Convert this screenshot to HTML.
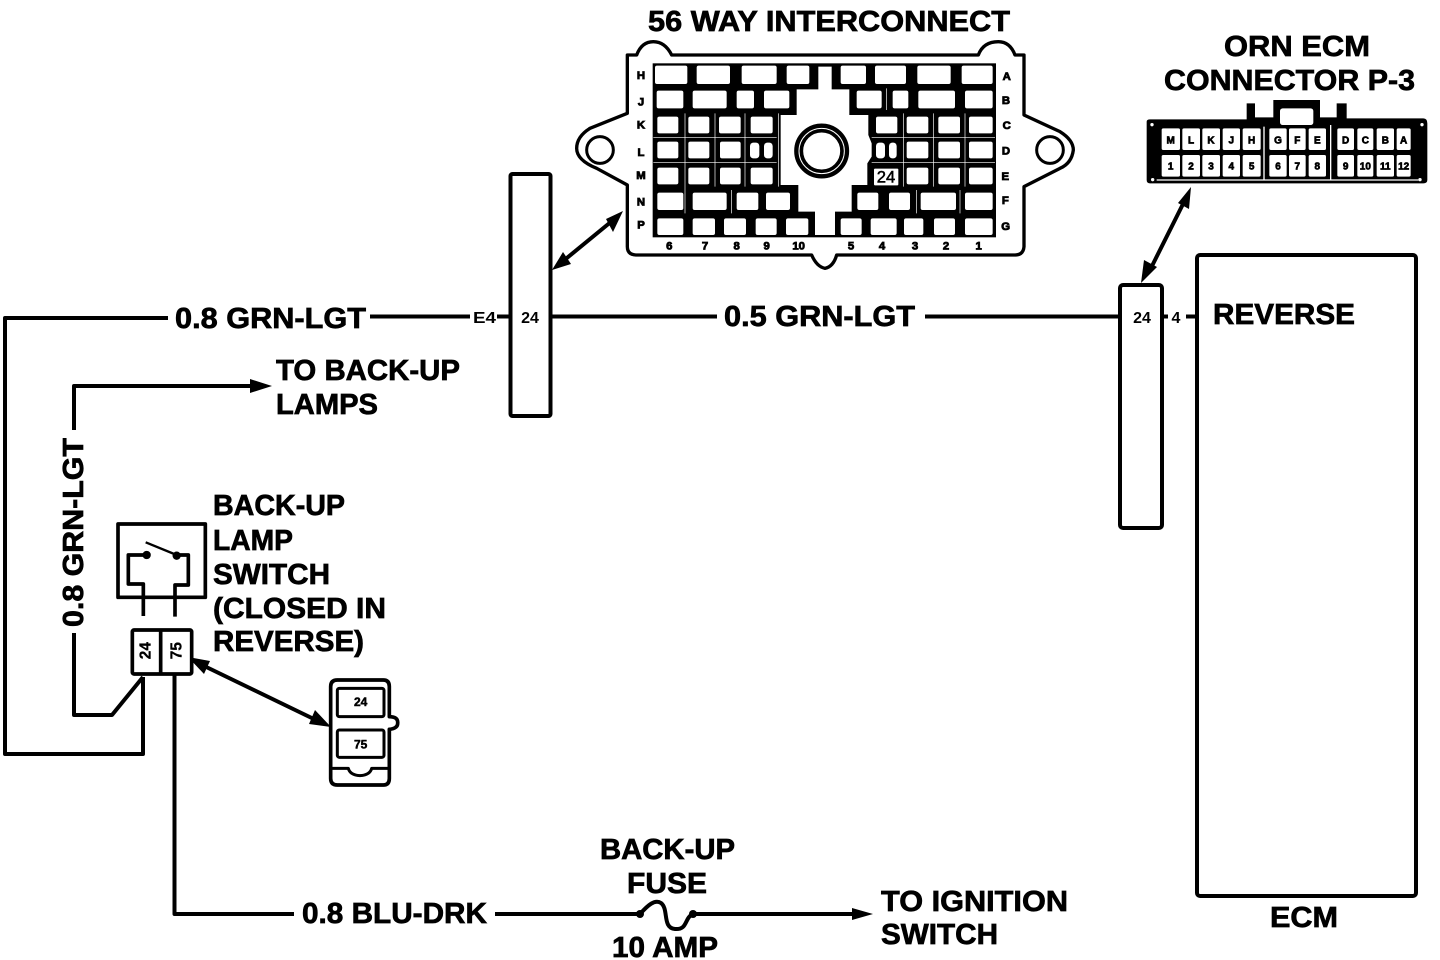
<!DOCTYPE html>
<html>
<head>
<meta charset="utf-8">
<style>
html,body{margin:0;padding:0;background:#fff;width:1440px;height:960px;overflow:hidden}
svg{display:block}
text{font-family:"Liberation Sans",sans-serif;font-weight:700;fill:#000}
.t{font-size:29px;stroke:#000;stroke-width:.7}
.w{fill:none;stroke:#000;stroke-width:4;stroke-linejoin:round}
.c{fill:#fff}
.s{font-size:34px;text-anchor:middle;stroke:#000;stroke-width:2.5}
.e{font-size:30px;text-anchor:middle;stroke:#000;stroke-width:2}
</style>
</head>
<body>
<svg width="1440" height="960" viewBox="0 0 1440 960" xmlns="http://www.w3.org/2000/svg">
<rect width="1440" height="960" fill="#fff"/>

<!-- labels -->
<text class="t" x="648" y="31" textLength="362" lengthAdjust="spacingAndGlyphs">56 WAY INTERCONNECT</text>
<text class="t" x="1224" y="56" textLength="146" lengthAdjust="spacingAndGlyphs">ORN ECM</text>
<text class="t" x="1164" y="90" textLength="251" lengthAdjust="spacingAndGlyphs">CONNECTOR P-3</text>
<text class="t" x="175" y="328" textLength="191" lengthAdjust="spacingAndGlyphs">0.8 GRN-LGT</text>
<text class="t" x="724" y="326" textLength="191" lengthAdjust="spacingAndGlyphs">0.5 GRN-LGT</text>
<text class="t" x="276" y="380" textLength="184" lengthAdjust="spacingAndGlyphs">TO BACK-UP</text>
<text class="t" x="276" y="414" textLength="102" lengthAdjust="spacingAndGlyphs">LAMPS</text>
<text class="t" x="1213" y="324" textLength="142" lengthAdjust="spacingAndGlyphs">REVERSE</text>
<text class="t" x="1270" y="927" textLength="68" lengthAdjust="spacingAndGlyphs">ECM</text>
<text class="t" x="213" y="515" textLength="132" lengthAdjust="spacingAndGlyphs">BACK-UP</text>
<text class="t" x="213" y="550" textLength="80" lengthAdjust="spacingAndGlyphs">LAMP</text>
<text class="t" x="213" y="584" textLength="117" lengthAdjust="spacingAndGlyphs">SWITCH</text>
<text class="t" x="213" y="618" textLength="173" lengthAdjust="spacingAndGlyphs">(CLOSED IN</text>
<text class="t" x="213" y="651" textLength="151" lengthAdjust="spacingAndGlyphs">REVERSE)</text>
<text class="t" x="302" y="923" textLength="185" lengthAdjust="spacingAndGlyphs">0.8 BLU-DRK</text>
<text class="t" x="600" y="859" textLength="135" lengthAdjust="spacingAndGlyphs">BACK-UP</text>
<text class="t" x="627" y="893" textLength="80" lengthAdjust="spacingAndGlyphs">FUSE</text>
<text class="t" x="612" y="957" textLength="106" lengthAdjust="spacingAndGlyphs">10 AMP</text>
<text class="t" x="881" y="911" textLength="187" lengthAdjust="spacingAndGlyphs">TO IGNITION</text>
<text class="t" x="881" y="944" textLength="117" lengthAdjust="spacingAndGlyphs">SWITCH</text>
<text class="t" transform="translate(83,627) rotate(-90)" x="0" y="0" textLength="189" lengthAdjust="spacingAndGlyphs">0.8 GRN-LGT</text>
<text x="473" y="323" font-size="16" textLength="23" lengthAdjust="spacingAndGlyphs">E4</text>
<text x="530" y="323" font-size="16" text-anchor="middle">24</text>
<text x="1142" y="323" font-size="16" text-anchor="middle">24</text>
<text x="1176" y="323" font-size="16" text-anchor="middle">4</text>

<!-- boxes -->
<rect class="w" x="510.5" y="174" width="40" height="242" rx="2" fill="none"/>
<rect class="w" x="1120" y="285" width="42" height="243" rx="3"/>
<rect class="w" x="1197" y="255" width="219" height="641" rx="3"/>

<!-- wires -->
<path class="w" d="M168 318H5V754H143V677"/>
<path class="w" d="M370 316.5H470M497 316.5H510"/>
<path class="w" d="M552 316.5H717M925 316.5H1120"/>
<path class="w" d="M1163 316.5H1168M1186 316.5H1197"/>
<path class="w" d="M74 430V386H252"/>
<path d="M250 379L272 386L250 393Z"/>
<path class="w" d="M74 633V715H112L143 677"/>
<path class="w" d="M174.5 675V914H294M495 914H640"/>
<path class="w" d="M640 914C648 905 655 899 661 903C669 909 662 928 675 929C688 930 684 918 693 914H860"/>
<circle cx="640" cy="914" r="4"/><circle cx="693" cy="914" r="4"/>
<path d="M852 908L873 914L852 920Z"/>

<!-- double arrows -->
<path class="w" d="M562 262L612 221"/>
<path d="M552 270L563 252L571 264Z"/><path d="M623 211L606 219L613 232Z"/>
<path class="w" d="M1184 202L1150 270"/>
<path d="M1191 187L1178 203L1189 209Z"/><path d="M1141 283L1144 260L1157 267Z"/>
<path class="w" d="M198 663L320 722"/>
<path d="M188 657L210 661L204 674Z"/><path d="M331 727L309 724L315 710Z"/>

<!-- 56-way connector -->
<g transform="translate(570,0) scale(.33333)">
<path fill="none" stroke="#000" stroke-width="10" stroke-linejoin="round" d="M172 340V165H200Q215 125 250 125Q285 125 305 165H1225Q1240 125 1285 125Q1320 125 1335 165H1362V345L1470 395Q1510 420 1510 450Q1505 490 1470 505L1362 560V740Q1360 765 1335 765H800Q790 800 765 805Q740 800 725 765H200Q172 765 172 740V555L80 505Q20 480 20 445Q20 410 60 385Z"/>
<circle cx="90" cy="450" r="40" fill="none" stroke="#000" stroke-width="9"/>
<circle cx="1440" cy="450" r="40" fill="none" stroke="#000" stroke-width="9"/>
<rect x="248" y="190" width="1030" height="522" fill="#000"/>
<path class="c" d="M745 200H785V268H838V345H895V405L905 430V470L892 490V555H845V635H795V705H735V635H685V555H632V345H680V268H745Z"/>
<circle cx="755" cy="453" r="76" fill="none" stroke="#000" stroke-width="13"/>
<circle cx="755" cy="453" r="61" fill="none" stroke="#000" stroke-width="11"/>
<g fill="#fff">
<rect x="255" y="197" width="97" height="55" rx="6"/><rect x="380" y="197" width="100" height="55" rx="6"/><rect x="515" y="197" width="105" height="55" rx="6"/><rect x="650" y="197" width="68" height="55" rx="6"/><rect x="812" y="197" width="76" height="55" rx="6"/><rect x="915" y="197" width="93" height="55" rx="6"/><rect x="1042" y="197" width="100" height="55" rx="6"/><rect x="1175" y="197" width="93" height="55" rx="6"/>
<rect x="260" y="272" width="80" height="53" rx="6"/><rect x="368" y="272" width="102" height="53" rx="6"/><rect x="500" y="272" width="52" height="53" rx="6"/><rect x="582" y="272" width="76" height="53" rx="6"/><rect x="860" y="272" width="75" height="53" rx="6"/><rect x="968" y="272" width="47" height="53" rx="6"/><rect x="1045" y="272" width="110" height="53" rx="6"/><rect x="1185" y="272" width="83" height="53" rx="6"/>
<rect x="262" y="350" width="63" height="50" rx="6"/><rect x="355" y="350" width="63" height="50" rx="6"/><rect x="447" y="350" width="65" height="50" rx="6"/><rect x="542" y="350" width="66" height="50" rx="6"/><rect x="918" y="350" width="64" height="50" rx="6"/><rect x="1010" y="350" width="65" height="50" rx="6"/><rect x="1105" y="350" width="65" height="50" rx="6"/><rect x="1197" y="350" width="71" height="50" rx="6"/>
<rect x="262" y="425" width="63" height="50" rx="6"/><rect x="355" y="425" width="63" height="50" rx="6"/><rect x="450" y="425" width="62" height="50" rx="6"/><rect x="540" y="428" width="28" height="47" rx="10"/><rect x="582" y="428" width="26" height="47" rx="10"/><rect x="918" y="428" width="27" height="47" rx="10"/><rect x="957" y="428" width="23" height="47" rx="10"/><rect x="1010" y="425" width="65" height="50" rx="6"/><rect x="1105" y="425" width="65" height="50" rx="6"/><rect x="1197" y="425" width="71" height="50" rx="6"/>
<rect x="262" y="503" width="63" height="50" rx="6"/><rect x="355" y="503" width="63" height="50" rx="6"/><rect x="450" y="503" width="62" height="50" rx="6"/><rect x="542" y="503" width="66" height="50" rx="6"/><rect x="912" y="506" width="73" height="50" rx="3"/><rect x="1010" y="503" width="65" height="50" rx="6"/><rect x="1105" y="503" width="65" height="50" rx="6"/><rect x="1197" y="503" width="71" height="50" rx="6"/>
<rect x="262" y="578" width="78" height="52" rx="6"/><rect x="368" y="578" width="102" height="52" rx="6"/><rect x="500" y="578" width="65" height="52" rx="6"/><rect x="588" y="578" width="72" height="52" rx="6"/><rect x="862" y="578" width="63" height="52" rx="6"/><rect x="957" y="578" width="63" height="52" rx="6"/><rect x="1052" y="578" width="106" height="52" rx="6"/><rect x="1185" y="578" width="83" height="52" rx="6"/>
<rect x="262" y="655" width="78" height="50" rx="6"/><rect x="368" y="655" width="67" height="50" rx="6"/><rect x="462" y="655" width="66" height="50" rx="6"/><rect x="557" y="655" width="63" height="50" rx="6"/><rect x="648" y="655" width="67" height="50" rx="6"/><rect x="812" y="655" width="63" height="50" rx="6"/><rect x="902" y="655" width="78" height="50" rx="6"/><rect x="1002" y="655" width="58" height="50" rx="6"/><rect x="1092" y="655" width="63" height="50" rx="6"/><rect x="1185" y="655" width="83" height="50" rx="6"/>
</g>
<path fill="none" stroke="#fff" stroke-width="2" d="M250 412H620M250 488H620M905 412H1275M905 488H1275M345 340V640M435 340V560M525 340V560M625 340V560M1000 340V560M1090 340V560M1185 340V560M485 570V640M1040 570V640M1170 570V640M950 265V330"/>
<text x="948" y="548" font-size="50" text-anchor="middle" style="font-weight:400;stroke:#000;stroke-width:1.5">24</text>
<text class="s" x="213" y="237">H</text><text class="s" x="213" y="316">J</text><text class="s" x="213" y="386">K</text><text class="s" x="213" y="468">L</text><text class="s" x="213" y="537">M</text><text class="s" x="213" y="616">N</text><text class="s" x="213" y="686">P</text>
<text class="s" x="1310" y="240">A</text><text class="s" x="1308" y="312">B</text><text class="s" x="1310" y="387">C</text><text class="s" x="1308" y="464">D</text><text class="s" x="1306" y="540">E</text><text class="s" x="1306" y="612">F</text><text class="s" x="1307" y="690">G</text>
<text class="s" x="298" y="748">6</text><text class="s" x="405" y="748">7</text><text class="s" x="500" y="748">8</text><text class="s" x="590" y="748">9</text><text class="s" x="686" y="748">10</text><text class="s" x="843" y="748">5</text><text class="s" x="936" y="748">4</text><text class="s" x="1035" y="748">3</text><text class="s" x="1128" y="748">2</text><text class="s" x="1226" y="748">1</text>
</g>

<!-- ECM connector -->
<g transform="translate(1140,20) scale(.33333)">
<path fill="#000" d="M20 305Q20 298 30 298H320V250H345V292H400V240H540V292H590V250H620V295H850Q862 295 862 310V480Q862 490 850 490H30Q20 490 20 480Z"/>
<rect x="420" y="265" width="100" height="50" rx="8" fill="#fff"/>
<path fill="none" stroke="#fff" stroke-width="4" d="M372 320V478M572 315V478M50 480H835"/>
<g fill="#fff">
<circle cx="36" cy="314" r="5"/><circle cx="846" cy="314" r="5"/><circle cx="38" cy="479" r="5"/><circle cx="840" cy="479" r="5"/>
<rect x="65" y="325" width="55" height="65" rx="5"/><rect x="127" y="325" width="53" height="65" rx="5"/><rect x="187" y="325" width="53" height="65" rx="5"/><rect x="248" y="325" width="52" height="65" rx="5"/><rect x="308" y="325" width="54" height="65" rx="5"/><rect x="388" y="325" width="52" height="65" rx="5"/><rect x="447" y="325" width="50" height="65" rx="5"/><rect x="506" y="325" width="52" height="65" rx="5"/><rect x="592" y="325" width="50" height="65" rx="5"/><rect x="652" y="325" width="48" height="65" rx="5"/><rect x="710" y="325" width="52" height="65" rx="5"/><rect x="770" y="325" width="42" height="65" rx="5"/>
<rect x="65" y="405" width="55" height="65" rx="5"/><rect x="127" y="405" width="53" height="65" rx="5"/><rect x="187" y="405" width="53" height="65" rx="5"/><rect x="248" y="405" width="52" height="65" rx="5"/><rect x="308" y="405" width="54" height="65" rx="5"/><rect x="388" y="405" width="52" height="65" rx="5"/><rect x="447" y="405" width="50" height="65" rx="5"/><rect x="506" y="405" width="52" height="65" rx="5"/><rect x="592" y="405" width="50" height="65" rx="5"/><rect x="652" y="405" width="48" height="65" rx="5"/><rect x="710" y="405" width="52" height="65" rx="5"/><rect x="770" y="405" width="42" height="65" rx="5"/>
</g>
<text class="e" x="92" y="371">M</text><text class="e" x="153" y="371">L</text><text class="e" x="213" y="371">K</text><text class="e" x="274" y="371">J</text><text class="e" x="335" y="371">H</text><text class="e" x="414" y="371">G</text><text class="e" x="472" y="371">F</text><text class="e" x="532" y="371">E</text><text class="e" x="617" y="371">D</text><text class="e" x="676" y="371">C</text><text class="e" x="736" y="371">B</text><text class="e" x="791" y="371">A</text>
<text class="e" x="92" y="449">1</text><text class="e" x="153" y="449">2</text><text class="e" x="213" y="449">3</text><text class="e" x="274" y="449">4</text><text class="e" x="335" y="449">5</text><text class="e" x="414" y="449">6</text><text class="e" x="472" y="449">7</text><text class="e" x="532" y="449">8</text><text class="e" x="617" y="449">9</text><text class="e" x="676" y="449">10</text><text class="e" x="736" y="449">11</text><text class="e" x="791" y="449">12</text>
</g>

<!-- switch -->
<g transform="translate(100,500) scale(.33333)" fill="none" stroke="#000" stroke-width="11" stroke-linejoin="round">
<rect x="54" y="72" width="262" height="220"/>
<path d="M140 165H85V252H130V348"/>
<path d="M137 127L230 165" stroke-width="7"/>
<path d="M230 165H265V255H225V350"/>
<circle cx="140" cy="165" r="7" fill="#000"/><circle cx="230" cy="167" r="7" fill="#000"/>
<rect x="97" y="390" width="178" height="132" rx="5" fill="#fff"/>
<path d="M182 390V522"/>
<g stroke="none" fill="#000">
<text transform="translate(152,452) rotate(-90)" font-size="46" text-anchor="middle" style="stroke:#000;stroke-width:1">24</text>
<text transform="translate(245,452) rotate(-90)" font-size="46" text-anchor="middle" style="stroke:#000;stroke-width:1">75</text>
</g>
<path fill="#fff" d="M692 560Q692 540 712 540H850Q868 540 868 560V650Q895 650 893 670Q893 685 868 688V835Q868 855 850 855H712Q692 855 692 835Z"/>
<rect x="712" y="565" width="140" height="85" rx="6" stroke-width="9"/>
<rect x="712" y="690" width="140" height="82" rx="6" stroke-width="9"/>
<path d="M695 805H745Q750 825 780 827Q810 825 815 805H865" stroke-width="9"/>
<g stroke="none" fill="#000">
<text x="782" y="618" font-size="36" text-anchor="middle" style="stroke:#000;stroke-width:1.5">24</text>
<text x="782" y="745" font-size="36" text-anchor="middle" style="stroke:#000;stroke-width:1.5">75</text>
</g>
</g>
</svg>
</body>
</html>
